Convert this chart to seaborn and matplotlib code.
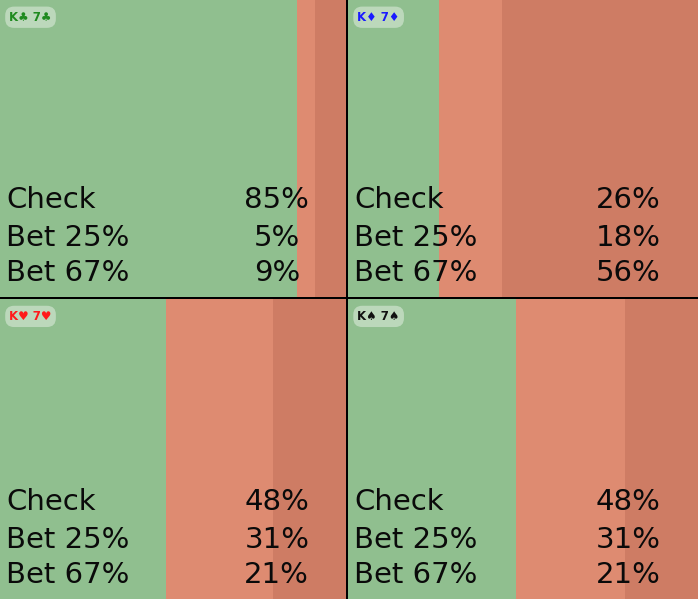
import matplotlib
matplotlib.use("Agg")
import matplotlib.pyplot as plt
import seaborn as sns
import numpy as np

# Data: one panel per hand
hands = ["K♣ 7♣", "K♦ 7♦", "K♥ 7♥", "K♠ 7♠"]
hand_colors = ["#1f8a1f", "#1a1aff", "#ff1a1a", "#111111"]
actions = ["Check", "Bet 25%", "Bet 67%"]
check_pct = [85, 26, 48, 48]
bet25_pct = [5, 18, 31, 31]
bet67_pct = [9, 56, 21, 21]

action_colors = ["#90bf8f", "#de8b71", "#ce7c64"]

sns.set_style("white")
plt.rcParams["font.family"] = ["DejaVu Sans"]

fig = plt.figure(figsize=(6.98, 5.99), dpi=100)
fig.patch.set_facecolor("black")

W, H = 698, 599
# panel rectangles in pixels: left, top, width, height
rects = [(0, 0, 346, 297), (348, 0, 350, 297),
         (0, 299, 346, 300), (348, 299, 350, 300)]

for i, (px, py, pw, ph) in enumerate(rects):
    ax = fig.add_axes([px / W, 1 - (py + ph) / H, pw / W, ph / H])
    vals = [check_pct[i], bet25_pct[i], bet67_pct[i]]
    cum = np.cumsum(vals)
    # stacked horizontal bar: draw the longest first
    for j in range(len(vals) - 1, -1, -1):
        sns.barplot(x=[cum[j]], y=[0], orient="h", color=action_colors[j],
                    width=1.0, saturation=1, linewidth=0, ax=ax)
    ax.set_xlim(0, cum[-1])
    ax.set_ylim(0.5, -0.5)
    ax.set_axis_off()

    for j, name in enumerate(actions):
        yy = [0.325, 0.198, 0.08][j]
        ax.text(0.017, yy, name, transform=ax.transAxes, fontsize=21,
                ha="left", va="center", color="#0a0a0a")
        ax.text(0.80, yy, f"{vals[j]}%", transform=ax.transAxes, fontsize=21,
                ha="center", va="center", color="#0a0a0a")

    ax.text(0.027, 0.942, hands[i], transform=ax.transAxes,
            fontsize=8.5, fontweight="bold", color=hand_colors[i],
            ha="left", va="center",
            bbox=dict(boxstyle="round,pad=0.35,rounding_size=0.75",
                      facecolor="white", alpha=0.4, edgecolor="none"))

fig.savefig("out.png", dpi=100, facecolor=fig.get_facecolor())
